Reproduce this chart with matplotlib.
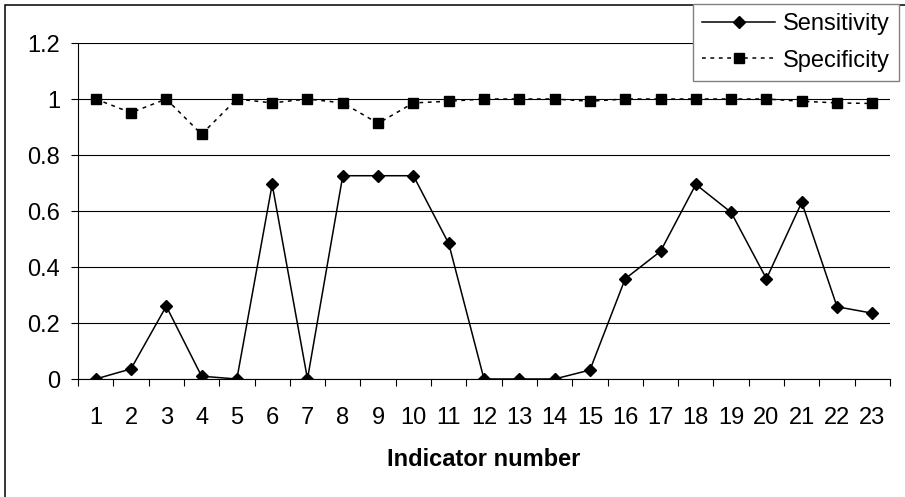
import matplotlib
matplotlib.use("Agg")
import matplotlib.pyplot as plt
from matplotlib.patches import Rectangle

plt.rcParams['font.family'] = ['Liberation Sans', 'DejaVu Sans']

indicators = [str(i) for i in range(1, 24)]
sensitivity = [0.0, 0.036, 0.26, 0.01, 0.0, 0.695, 0.0, 0.726, 0.726, 0.726, 0.484,
               0.0, 0.0, 0.0, 0.032, 0.358, 0.456, 0.695, 0.595, 0.358, 0.631, 0.258, 0.235]
specificity = [1.0, 0.951, 1.0, 0.874, 1.0, 0.986, 1.0, 0.986, 0.913, 0.986, 0.992,
               1.0, 1.0, 1.0, 0.992, 1.0, 1.0, 1.0, 1.0, 1.0, 0.992, 0.986, 0.984]
y_ticks = [0, 0.2, 0.4, 0.6, 0.8, 1.0, 1.2]
y_labels = ["0", "0.2", "0.4", "0.6", "0.8", "1", "1.2"]
x_label = "Indicator number"
series_names = ["Sensitivity", "Specificity"]

FS = 17
W, H = 905, 497
fig = plt.figure(figsize=(W / 100, H / 100), dpi=100)
ax = fig.add_axes([78 / W, 1 - 379 / H, 812 / W, 336 / H])

x = list(range(len(indicators)))
l1, = ax.plot(x, sensitivity, color='black', lw=1.1, marker='D', ms=6.3,
              label=series_names[0], zorder=3)
l2, = ax.plot(x, specificity, color='black', lw=1.1, marker='s', ms=7,
              label=series_names[1], zorder=3)
l2.set_dashes([2.5, 3])

ax.set_xlim(-0.5, len(indicators) - 0.5)
ax.set_ylim(0, 1.2)
ax.set_yticks(y_ticks)
ax.set_yticklabels(y_labels)
ax.set_xticks(x)
ax.set_xticklabels(indicators)
ax.set_xticks([i - 0.5 for i in range(len(indicators) + 1)], minor=True)

ax.tick_params(axis='x', which='major', length=0, pad=20, labelsize=FS)
ax.tick_params(axis='x', which='minor', length=5, width=0.8, direction='out')
ax.tick_params(axis='y', which='major', length=5, width=0.8, pad=8, labelsize=FS)

ax.grid(axis='y', color='black', lw=0.8)
ax.set_axisbelow(True)
for s in ['top', 'right']:
    ax.spines[s].set_visible(False)
ax.spines['left'].set_linewidth(0.8)
ax.spines['bottom'].set_linewidth(0.8)

ax.set_xlabel(x_label, fontsize=FS, fontweight='bold', labelpad=14)

leg = fig.legend(handles=[l1, l2], loc='upper right',
                 bbox_to_anchor=(899 / W, 1 - 4 / H), bbox_transform=fig.transFigure,
                 fontsize=FS, numpoints=1, handlelength=3.1, handletextpad=0.3,
                 labelspacing=0.6, borderpad=0.4, borderaxespad=0, fancybox=False,
                 framealpha=1, edgecolor='#808080')
leg.get_frame().set_linewidth(1.0)

fig.patches.append(Rectangle((5 / W, -0.1), 1.2, 1 - 5 / H + 0.1,
                             transform=fig.transFigure, fill=False,
                             edgecolor='black', lw=1.1, zorder=0))

fig.savefig('out.png', dpi=100)
